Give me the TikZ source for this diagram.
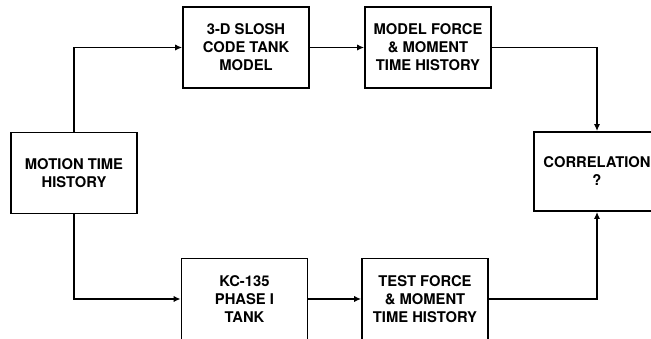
\documentclass[tikz,border=0pt]{standalone}
\usepackage{fontspec}
\setmainfont{TeX Gyre Heros}
\usetikzlibrary{arrows.meta}

\tikzset{
  block/.style = {
    draw           = black,
    line width     = 1.2pt,
    minimum width  = 3.15cm,
    minimum height = 2.03cm,
    inner sep      = 0pt,
    align          = center,
    font           = \fontsize{10.5}{12.8}\selectfont\bfseries
  },
  flow/.style = {
    line width = 1.2pt,
    -{Latex[length=5pt,width=4.5pt]}
  }
}

\begin{document}
\begin{tikzpicture}[x=0.025cm, y=-0.025cm]
  \useasboundingbox (0,0) rectangle (651,339);
  \clip (0,0) rectangle (651,339);

  % blocks
  \node[block] (motion) at (74,173)    {MOTION TIME\\HISTORY};
  \node[block] (slosh)  at (246,47.5)  {3-D SLOSH\\CODE TANK\\MODEL};
  \node[block] (modelf) at (428,47.5)  {MODEL FORCE\\\& MOMENT\\TIME HISTORY};
  \node[block] (kc)     at (244.5,299) {KC-135\\PHASE I\\TANK};
  \node[block] (testf)  at (425,299)   {TEST FORCE\\\& MOMENT\\TIME HISTORY};
  \node[block, minimum height=1.98cm] (corr) at (597,171.5) {CORRELATION\\?};

  % connectors
  \draw[flow] (motion.north) |- (slosh.west);
  \draw[flow] (slosh) -- (modelf);
  \draw[flow] (modelf.east) -| (corr.north);
  \draw[flow] (motion.south) |- (kc.west);
  \draw[flow] (kc) -- (testf);
  \draw[flow] (testf.east) -| (corr.south);
\end{tikzpicture}
\end{document}
